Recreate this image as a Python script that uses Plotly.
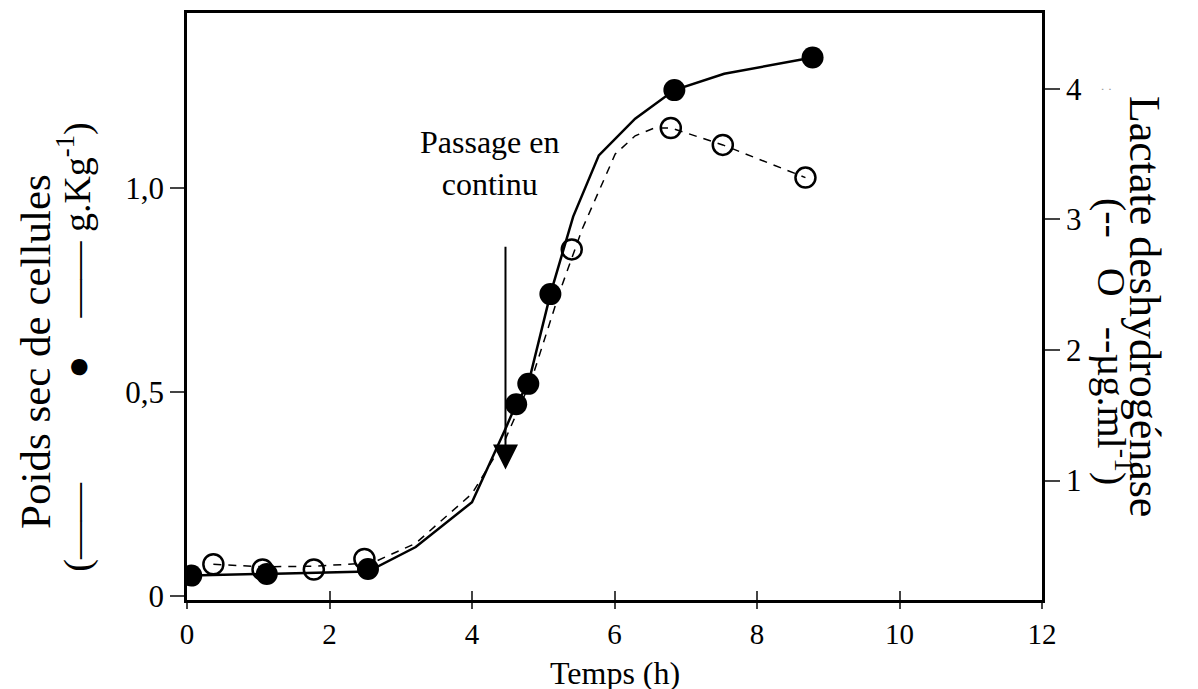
import plotly.graph_objects as go

# Dry cell weight (filled circles, left axis, g.Kg-1)
t_cells = [0.06, 1.12, 2.54, 4.62, 4.79, 5.10, 6.84, 8.78]
cells = [0.05, 0.054, 0.066, 0.47, 0.52, 0.74, 1.24, 1.32]

# Smooth solid curve through cell weight
t_cells_fit = [0.06, 1.12, 2.54, 3.21, 4.0, 4.47, 4.62, 4.79, 5.10, 5.42, 5.78, 6.29, 6.84, 7.54, 8.14, 8.78]
cells_fit = [0.05, 0.054, 0.06, 0.12, 0.23, 0.41, 0.47, 0.52, 0.74, 0.93, 1.08, 1.17, 1.24, 1.28, 1.30, 1.32]

# Lactate dehydrogenase (open circles, right axis, µg.ml-1)
t_ldh = [0.37, 1.06, 1.78, 2.49, 5.40, 6.79, 7.52, 8.68]
ldh = [0.36, 0.32, 0.32, 0.40, 2.77, 3.70, 3.57, 3.32]

# Dashed curve through LDH
t_ldh_fit = [0.37, 1.06, 1.78, 2.60, 3.21, 4.0, 4.47, 4.84, 5.24, 5.55, 6.01, 6.29, 6.56, 6.79, 7.52, 8.68]
ldh_fit = [0.36, 0.34, 0.345, 0.37, 0.52, 0.90, 1.32, 1.78, 2.46, 2.93, 3.50, 3.64, 3.70, 3.70, 3.57, 3.32]

x_ticks = [0, 2, 4, 6, 8, 10, 12]
y_ticks = [0, 0.5, 1.0]
y_ticktext = ["0", "0,5", "1,0"]
y2_ticks = [1, 2, 3, 4]

arrow_t = 4.47
arrow_top = 0.86
arrow_tip = 0.31

FONT = "Liberation Serif, Times New Roman, serif"
NB = "&nbsp;"

fig = go.Figure()
fig.add_trace(go.Scatter(x=t_cells_fit, y=cells_fit, mode="lines",
                         line=dict(color="black", width=2.5), showlegend=False, hoverinfo="skip"))
fig.add_trace(go.Scatter(x=t_ldh_fit, y=ldh_fit, mode="lines", xaxis="x2", yaxis="y2",
                         line=dict(color="black", width=1.5, dash="8px,7px"), showlegend=False, hoverinfo="skip"))
fig.add_trace(go.Scatter(x=t_ldh, y=ldh, mode="markers", xaxis="x2", yaxis="y2",
                         marker=dict(symbol="circle-open", size=20, color="black", line=dict(width=2.5)),
                         showlegend=False))
fig.add_trace(go.Scatter(x=t_cells, y=cells, mode="markers",
                         marker=dict(symbol="circle", size=22, color="black"),
                         showlegend=False))

fig.update_layout(
    width=1198, height=689,
    margin=dict(l=179, r=164, t=2, b=97),
    paper_bgcolor="white", plot_bgcolor="white",
    font=dict(family=FONT, color="black", size=30),
    xaxis=dict(range=[0, 12], tickvals=x_ticks, ticks="outside", ticklen=6, tickwidth=2,
               showline=True, linewidth=2.5, linecolor="black", mirror=True,
               showgrid=False, zeroline=False, tickfont=dict(size=29, family=FONT)),
    xaxis2=dict(range=[0, 12], tickvals=x_ticks, overlaying="x", side="bottom",
                ticks="inside", ticklen=9, tickwidth=2, showticklabels=False,
                showline=False, showgrid=False, zeroline=False),
    yaxis=dict(range=[-0.0098, 1.429], tickvals=y_ticks, ticktext=y_ticktext,
               ticks="outside", ticklen=14, tickwidth=2,
               showline=True, linewidth=2.5, linecolor="black",
               showgrid=False, zeroline=False, tickfont=dict(size=31, family=FONT)),
    yaxis2=dict(range=[0.086, 4.58], tickvals=y2_ticks, overlaying="y", side="right",
                ticks="outside", ticklen=15, tickwidth=2,
                showline=True, linewidth=2.5, linecolor="black",
                showgrid=False, zeroline=False, tickfont=dict(size=31, family=FONT)),
)

# X axis title
fig.add_annotation(xref="paper", yref="paper", x=0.5, y=-0.124, xanchor="center", yanchor="middle",
                   text="Temps (h)", showarrow=False, font=dict(size=32, family=FONT))

# Left axis title (two lines, rotated)
fig.add_annotation(xref="paper", yref="paper", x=-0.178, y=0.424, xanchor="center", yanchor="middle",
                   text="Poids sec de cellules", textangle=-90, showarrow=False,
                   font=dict(size=43, family=FONT))
fig.add_annotation(xref="paper", yref="paper", x=-0.132, y=0.43, xanchor="center", yanchor="middle",
                   text="(——" + NB * 11 + "●" + NB * 4 + "——" + NB + "g.Kg<sup>-1</sup>)",
                   textangle=-90, showarrow=False, font=dict(size=38, family=FONT))
# Right axis title (two lines, rotated the other way)
fig.add_annotation(xref="paper", yref="paper", x=1.12, y=0.5, xanchor="center", yanchor="middle",
                   text="Lactate deshydrogénase", textangle=90, showarrow=False,
                   font=dict(size=44, family=FONT))
fig.add_annotation(xref="paper", yref="paper", x=1.084, y=0.44, xanchor="center", yanchor="middle",
                   text="(--" + NB * 3 + "O" + NB * 3 + "--µg.ml<sup>-1</sup>)", textangle=90,
                   showarrow=False, font=dict(size=40, family=FONT))
fig.add_annotation(xref="paper", yref="paper", x=1.075, y=0.87, xanchor="center", yanchor="middle",
                   text="⁚", textangle=90, showarrow=False, font=dict(size=12, color="#999999", family=FONT))

# Arrow and its label
fig.add_annotation(x=arrow_t, y=arrow_tip, ax=arrow_t, ay=arrow_top, xref="x", yref="y",
                   axref="x", ayref="y", text="", showarrow=True, arrowhead=2, arrowsize=2.5,
                   arrowwidth=2, arrowcolor="black")
fig.add_annotation(x=4.25, y=arrow_top + 0.1, xref="x", yref="y", yanchor="bottom",
                   text="Passage en<br>continu", showarrow=False, align="center",
                   font=dict(size=32, family=FONT))

fig.write_html("out.html")
